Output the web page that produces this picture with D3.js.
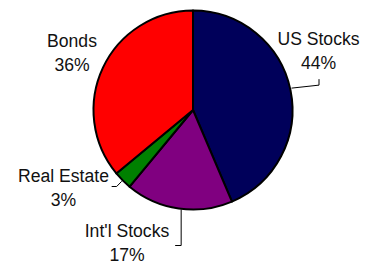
<!DOCTYPE html>
<html>
<head>
<meta charset="utf-8">
<script src="https://cdn.jsdelivr.net/npm/d3@7"></script>
<style>
  html, body { margin: 0; padding: 0; background: #fff; }
  svg { display: block; }
  text { font-family: "Liberation Sans", Arial, sans-serif; font-size: 17.6px; fill: #111; }
</style>
</head>
<body>
<svg id="chart" width="370" height="264"></svg>
<script>
// ---- data ----
const categories = ["US Stocks", "Int'l Stocks", "Real Estate", "Bonds"];
const values = [43.6, 17.4, 3.0, 36.0];
const percentLabels = ["44%", "17%", "3%", "36%"];
const colors = ["#00005A", "#800080", "#008000", "#FF0000"];

// ---- layout (positions, not data) ----
const W = 370, H = 264;
const cx = 193, cy = 110, R = 99.5;
// label placement: text centre x / first baseline y, and leader style per slice
const labelLayout = [
  { x: 318.5, y: 45,    leader: "up" },     // US Stocks
  { x: 127,   y: 236.5, leader: "down" },   // Int'l Stocks
  { x: 63.5,  y: 181.5, leader: "left" },   // Real Estate
  { x: 72,    y: 46.5,  leader: null }      // Bonds
];
const lineGap = 24;

const svg = d3.select("#chart");
const g = svg.append("g").attr("transform", `translate(${cx},${cy})`);

const pie = d3.pie().sort(null).value(d => d.value).startAngle(0).endAngle(2 * Math.PI);
const data = categories.map((c, i) => ({ cat: c, value: values[i], pct: percentLabels[i], color: colors[i] }));
const arcs = pie(data);
const arc = d3.arc().innerRadius(0).outerRadius(R);

g.selectAll("path.slice")
  .data(arcs)
  .join("path")
  .attr("class", "slice")
  .attr("d", arc)
  .attr("fill", d => d.data.color)
  .attr("stroke", "#000")
  .attr("stroke-width", 2)
  .attr("stroke-linejoin", "round");

// leader lines
arcs.forEach((a, i) => {
  const L = labelLayout[i];
  if (!L.leader) return;
  const mid = (a.startAngle + a.endAngle) / 2;
  const px = cx + R * Math.sin(mid), py = cy - R * Math.cos(mid);
  let pts;
  if (L.leader === "up") {
    pts = [[px + 1, py - 2], [L.x + 0.5, py - 5], [L.x + 0.5, py - 11]];
  } else if (L.leader === "down") {
    const yEnd = L.y + 9;
    pts = [[px + 2.5, py + 1], [px + 2.5, yEnd], [px - 3.5, yEnd]];
  } else {
    const yEnd = L.y + 5;
    pts = [[px - 1, py + 1], [px - 6, yEnd], [px - 11, yEnd]];
  }
  svg.append("polyline")
    .attr("points", pts.map(p => p.join(",")).join(" "))
    .attr("fill", "none")
    .attr("stroke", "#000")
    .attr("stroke-width", 1);
});

// labels
arcs.forEach((a, i) => {
  const L = labelLayout[i];
  const t = svg.append("text").attr("text-anchor", "middle");
  t.append("tspan").attr("x", L.x).attr("y", L.y).text(a.data.cat);
  t.append("tspan").attr("x", L.x).attr("y", L.y + lineGap).text(a.data.pct);
});
</script>
</body>
</html>
